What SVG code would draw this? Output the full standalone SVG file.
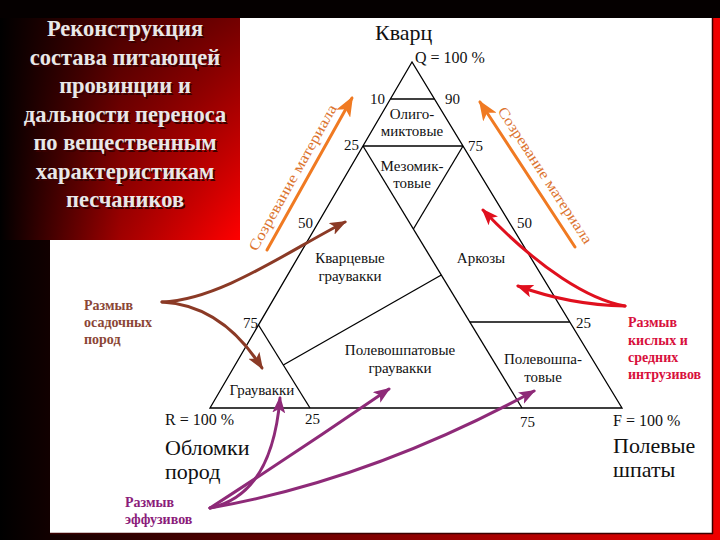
<svg xmlns="http://www.w3.org/2000/svg" width="720" height="540" viewBox="0 0 720 540">
  <defs>
    <linearGradient id="bg" x1="0" y1="0" x2="720" y2="0" gradientUnits="userSpaceOnUse">
      <stop offset="0" stop-color="#000000"/>
      <stop offset="0.35" stop-color="#5a0000"/>
      <stop offset="1" stop-color="#f00000"/>
    </linearGradient>
    <linearGradient id="tbH" x1="0" y1="0" x2="240" y2="0" gradientUnits="userSpaceOnUse">
      <stop offset="0" stop-color="#000000"/>
      <stop offset="0.5" stop-color="#a00000"/>
      <stop offset="1" stop-color="#ff0000"/>
    </linearGradient>
    <linearGradient id="tbV" x1="0" y1="18" x2="0" y2="240" gradientUnits="userSpaceOnUse">
      <stop offset="0" stop-color="#000000" stop-opacity="0.55"/>
      <stop offset="1" stop-color="#000000" stop-opacity="0"/>
    </linearGradient>
    <marker id="mOr" markerUnits="userSpaceOnUse" markerWidth="20" markerHeight="16" viewBox="0 0 20 16" refX="18" refY="8" orient="auto">
      <path d="M0,0 L20,8 L0,16 L5,8 Z" fill="#f07a22"/>
    </marker>
    <marker id="mBr" markerUnits="userSpaceOnUse" markerWidth="17" markerHeight="13" viewBox="0 0 17 13" refX="15" refY="6.5" orient="auto">
      <path d="M0,0 L17,6.5 L0,13 L4,6.5 Z" fill="#8b3a26"/>
    </marker>
    <marker id="mRd" markerUnits="userSpaceOnUse" markerWidth="17" markerHeight="13" viewBox="0 0 17 13" refX="15" refY="6.5" orient="auto">
      <path d="M0,0 L17,6.5 L0,13 L4,6.5 Z" fill="#e0101e"/>
    </marker>
    <marker id="mPu" markerUnits="userSpaceOnUse" markerWidth="17" markerHeight="13" viewBox="0 0 17 13" refX="15" refY="6.5" orient="auto">
      <path d="M0,0 L17,6.5 L0,13 L4,6.5 Z" fill="#8e2a78"/>
    </marker>
  </defs>
  <style>
    text { font-family: "Liberation Serif", "DejaVu Serif", serif; }
    .tri { fill: none; stroke: #000; stroke-width: 1.3; }
    .lbl { font-size: 15px; fill: #111; text-anchor: middle; }
    .num { font-size: 15px; fill: #111; }
    .big { font-size: 22px; fill: #111; }
    .mid { font-size: 16px; fill: #111; }
    .title { font-size: 22.5px; font-weight: bold; text-anchor: middle; }
    .src { font-size: 14px; font-weight: bold; }
    .mat { font-size: 15px; fill: #dc7430; text-anchor: middle; }
    .arr { fill: none; stroke-width: 3; stroke-linecap: round; }
  </style>

  <!-- background -->
  <rect x="0" y="0" width="720" height="540" fill="url(#bg)"/>
  <rect x="0" y="0" width="720" height="18" fill="#050000"/>
  <rect x="50" y="18" width="662" height="515" fill="#ffffff"/>
  <line x1="712.5" y1="18" x2="712.5" y2="534" stroke="#3a0000" stroke-width="1.5"/>
  <line x1="50" y1="533.5" x2="713" y2="533.5" stroke="#3a0000" stroke-width="1.5"/>

  <!-- title box -->
  <g id="title">
    <rect x="0" y="18" width="240" height="222" fill="url(#tbH)"/>
    <rect x="0" y="18" width="240" height="222" fill="url(#tbV)"/>
    <g class="title" fill="#3a0000" transform="translate(1.5,1.5)">
      <text x="125" y="36">Реконструкция</text>
      <text x="125" y="65">состава питающей</text>
      <text x="125" y="93">провинции и</text>
      <text x="125" y="122">дальности переноса</text>
      <text x="125" y="150">по вещественным</text>
      <text x="125" y="179">характеристикам</text>
      <text x="125" y="207">песчаников</text>
    </g>
    <g class="title" fill="#e8e8e8">
      <text x="125" y="36">Реконструкция</text>
      <text x="125" y="65">состава питающей</text>
      <text x="125" y="93">провинции и</text>
      <text x="125" y="122">дальности переноса</text>
      <text x="125" y="150">по вещественным</text>
      <text x="125" y="179">характеристикам</text>
      <text x="125" y="207">песчаников</text>
    </g>
  </g>

  <!-- triangle -->
  <g id="triangle">
    <polygon class="tri" points="412,62 210,408 622,408"/>
    <line class="tri" x1="390.4" y1="99" x2="434.5" y2="99"/>
    <line class="tri" x1="363" y1="146" x2="463" y2="146"/>
    <line class="tri" x1="363" y1="146" x2="522" y2="408"/>
    <line class="tri" x1="463" y1="146" x2="413.4" y2="229"/>
    <line class="tri" x1="283.3" y1="365" x2="441.3" y2="275"/>
    <line class="tri" x1="258.5" y1="325" x2="310" y2="408"/>
    <line class="tri" x1="469.8" y1="322" x2="569.8" y2="322"/>
  </g>

  <!-- vertex labels -->
  <g id="vertex-Q">
    <text x="375" y="40" font-size="22" fill="#111">Кварц</text>
    <text class="mid" x="415" y="63">Q = 100 %</text>
  </g>
  <g id="vertex-R">
    <text class="mid" x="165" y="425">R = 100 %</text>
    <text class="big" x="165" y="455">Обломки</text>
    <text class="big" x="165" y="479">пород</text>
  </g>
  <g id="vertex-F">
    <text class="mid" x="613" y="426">F = 100 %</text>
    <text class="big" x="613" y="453">Полевые</text>
    <text class="big" x="613" y="477">шпаты</text>
  </g>

  <!-- scale numbers -->
  <g id="numbers" class="num">
    <text x="385" y="104" text-anchor="end">10</text>
    <text x="445" y="104">90</text>
    <text x="359" y="150" text-anchor="end">25</text>
    <text x="468" y="151">75</text>
    <text x="313" y="228" text-anchor="end">50</text>
    <text x="517" y="228">50</text>
    <text x="258" y="328" text-anchor="end">75</text>
    <text x="576" y="328">25</text>
    <text x="305" y="424">25</text>
    <text x="520" y="427">75</text>
  </g>

  <!-- field labels -->
  <g id="field-oligo" class="lbl">
    <text x="412" y="119">Олиго-</text>
    <text x="412" y="136">миктовые</text>
  </g>
  <g id="field-mezo" class="lbl">
    <text x="412" y="171">Мезомик-</text>
    <text x="412" y="188">товые</text>
  </g>
  <g id="field-qgw" class="lbl">
    <text x="350" y="263">Кварцевые</text>
    <text x="350" y="281">граувакки</text>
  </g>
  <g id="field-ark" class="lbl">
    <text x="481" y="263">Аркозы</text>
  </g>
  <g id="field-fgw" class="lbl">
    <text x="400" y="355">Полевошпатовые</text>
    <text x="400" y="373">граувакки</text>
  </g>
  <g id="field-fsp" class="lbl">
    <text x="543" y="364">Полевошпа-</text>
    <text x="543" y="382">товые</text>
  </g>
  <g id="field-gw" class="lbl">
    <text x="262" y="395">Граувакки</text>
  </g>

  <!-- source labels -->
  <g id="src-sed" class="src" fill="#8b4636">
    <text x="84" y="310">Размыв</text>
    <text x="84" y="327">осадочных</text>
    <text x="84" y="344">пород</text>
  </g>
  <g id="src-intr" class="src" fill="#d8103c">
    <text x="628" y="327">Размыв</text>
    <text x="628" y="345">кислых и</text>
    <text x="628" y="362">средних</text>
    <text x="628" y="379">интрузивов</text>
  </g>
  <g id="src-eff" class="src" fill="#8b1c7a">
    <text x="125" y="507">Размыв</text>
    <text x="125" y="524">эффузивов</text>
  </g>

  <!-- maturation labels -->
  <g id="maturation-left">
    <text class="mat" transform="translate(297,180) rotate(-60.8)" textLength="165" lengthAdjust="spacingAndGlyphs">Созревание материала</text>
  </g>
  <g id="maturation-right">
    <text class="mat" transform="translate(541,178) rotate(56.8)" textLength="160" lengthAdjust="spacingAndGlyphs">Созревание материала</text>
  </g>

  <!-- connectors -->
  <g id="connectors">
    <path class="arr" stroke="#f07a22" d="M267,250 L352,98" marker-end="url(#mOr)"/>
    <path class="arr" stroke="#f07a22" d="M575,247 L480,102" marker-end="url(#mOr)"/>
    <path class="arr" stroke="#8b3a26" d="M162,302 C220,300 290,250 345,222" marker-end="url(#mBr)"/>
    <path class="arr" stroke="#8b3a26" d="M162,302 Q222,305 262,368" marker-end="url(#mBr)"/>
    <path class="arr" stroke="#e0101e" d="M625,306 C590,300 540,270 483,210" marker-end="url(#mRd)"/>
    <path class="arr" stroke="#e0101e" d="M625,306 Q570,305 518,286" marker-end="url(#mRd)"/>
    <path class="arr" stroke="#8e2a78" d="M210,508 Q272,495 280,398" marker-end="url(#mPu)"/>
    <path class="arr" stroke="#8e2a78" d="M210,508 Q300,450 389,389" marker-end="url(#mPu)"/>
    <path class="arr" stroke="#8e2a78" d="M210,508 Q370,480 534,391" marker-end="url(#mPu)"/>
  </g>
</svg>
